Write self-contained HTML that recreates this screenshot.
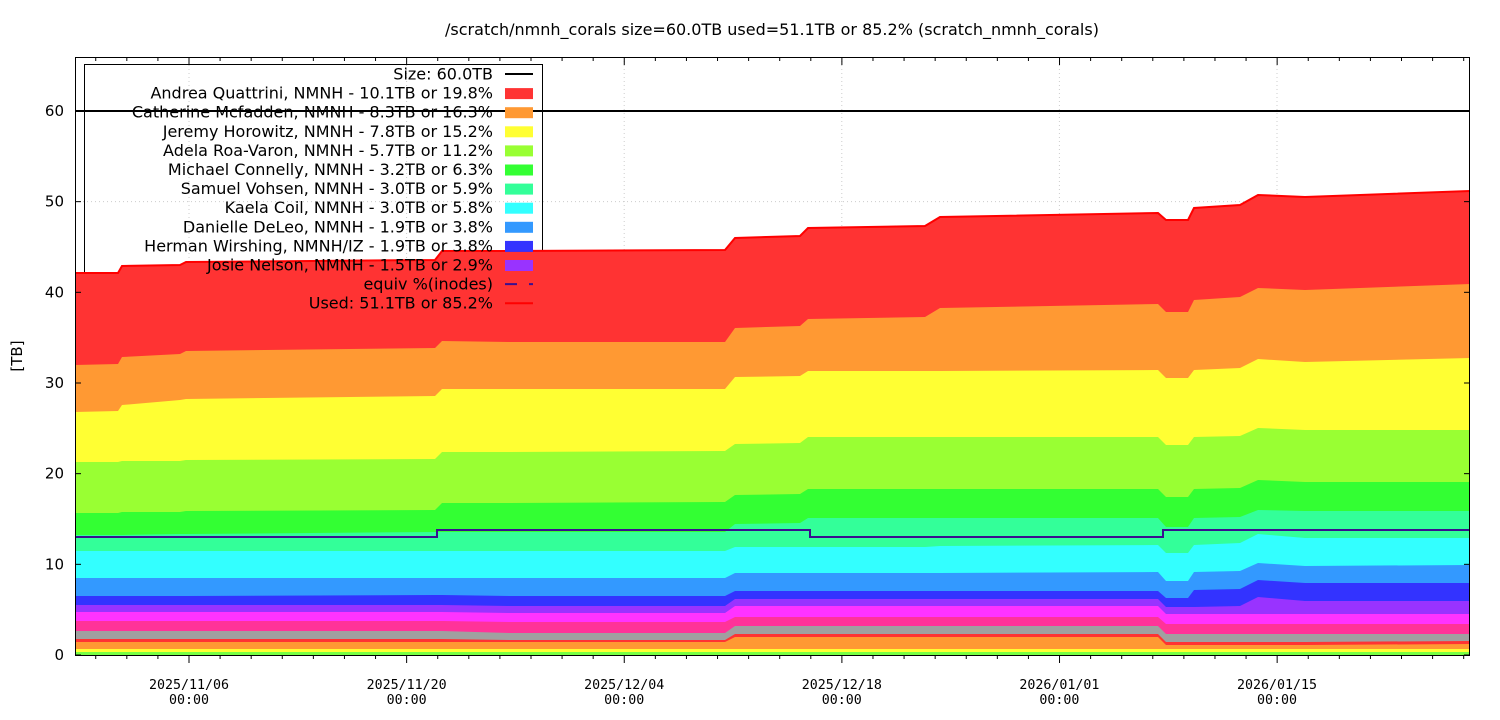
<!DOCTYPE html>
<html><head><meta charset="utf-8"><style>
html,body{margin:0;padding:0;background:#fff;}
svg{display:block;}
</style></head><body>
<svg id="s" width="1500" height="720" xmlns="http://www.w3.org/2000/svg" font-family="DejaVu Sans, Liberation Sans, sans-serif">
<rect width="1500" height="720" fill="#fff"/>
<text x="772" y="35" font-size="16" text-anchor="middle">/scratch/nmnh_corals size=60.0TB used=51.1TB or 85.2% (scratch_nmnh_corals)</text>
<g id="grid" stroke="#ccc" stroke-width="1" stroke-dasharray="1,3"></g>
<rect x="84.5" y="64.5" width="458" height="250" fill="none" stroke="#000"/>
<g id="areas"></g>
<g id="lines"></g>
<g id="axes"></g>
<g id="legend" font-size="16"></g>
<text transform="translate(22,356) rotate(-90)" font-size="15" text-anchor="middle">[TB]</text>
</svg>
<script>
var NS="http://www.w3.org/2000/svg";
function el(p,t,a,txt){var e=document.createElementNS(NS,t);for(var k in a)e.setAttribute(k,a[k]);if(txt!=null)e.textContent=txt;document.getElementById(p).appendChild(e);return e;}
var K=[
[75,[652,649,642,639,631,621,612,605,596,578,551,535,513,462,412,365,273]],
[118,[652,649,642,639,631,621,612,605,596,578,551,535,513,462,411,364,273]],
[122,[652,649,642,639,631,621,612,605,596,578,551,535,512,461,405,357,266]],
[180,[652,649,642,639,631,621,612,605,596,578,551,534,512,461,400,354,265]],
[186,[652,649,642,639,631,621,612,605,596,578,551,534,511,460,399,351,262]],
[435,[652,649,642,639,631,621,612,605,595,578,551,532,510,459,396,348,260]],
[442,[652,649,642,639,631,621,612,605,595,578,551,532,503,452,389,341,251]],
[510,[652,649,642,640,633,622,613,606,596,578,551,532,503,452,389,342,251]],
[725,[652,649,642,640,633,622,613,606,596,578,551,532,502,451,389,342,250]],
[735,[652,649,637,634,626,617,606,599,591,573,547,524,495,444,377,328,238]],
[800,[652,649,637,634,626,617,606,599,591,573,547,523,494,443,376,326,236]],
[808,[652,649,637,634,626,617,606,599,591,573,547,518,489,437,371,319,228]],
[925,[652,649,637,634,626,617,606,599,591,573,547,518,489,437,371,317,226]],
[940,[652,649,637,634,626,617,606,599,591,573,546,518,489,437,371,308,217]],
[1158,[652,649,637,634,626,617,606,599,591,572,545,518,489,437,370,304,213]],
[1166,[652,649,645,642,634,624,614,607,598,581,553,527,497,445,378,312,220]],
[1188,[652,649,645,642,634,624,614,607,598,581,553,527,497,445,378,312,220]],
[1194,[652,649,645,642,634,624,614,607,590,572,545,518,489,437,370,300,208]],
[1240,[652,649,645,642,634,624,614,606,589,571,543,517,488,436,368,297,205]],
[1258,[652,649,645,642,634,624,614,597,580,563,534,510,480,428,359,288,195]],
[1305,[652,649,645,642,634,624,614,601,583,566,538,511,482,430,362,290,197]],
[1470,[652,649,644,641,634,624,614,601,583,565,538,511,482,430,358,284,191]]
];
var C=["#77ff44","#ffff33","#ff9933","#ff3333","#a0a0a0","#ff3399","#ff33ff","#9933ff","#3333ff","#3399ff","#33ffff","#33ff99","#33ff33","#99ff33","#ffff33","#ff9933","#ff3333"];
var yt=[0,10,20,30,40,50,60];
yt.forEach(function(v){var y=655-v*9.067;el("grid","line",{x1:75,x2:1470,y1:y,y2:y});});
var xm=[189,406.6,624.2,841.8,1059.4,1277];
xm.forEach(function(x){el("grid","line",{x1:x,x2:x,y1:57,y2:655});});
for(var i=16;i>=0;i--){
 var pts=K.map(function(k){return k[0]+","+k[1][i];}).join(" ");
 el("areas","polygon",{points:pts+" 1470,655 75,655",fill:C[i]});
}
el("lines","polyline",{points:K.map(function(k){return k[0]+","+k[1][16];}).join(" "),fill:"none",stroke:"#ff0000","stroke-width":2});
el("lines","line",{x1:75,x2:1470,y1:111,y2:111,stroke:"#000","stroke-width":2});
el("lines","polyline",{points:"75,537 437,537 437,530 810,530 810,537 1163,537 1163,530 1470,530",fill:"none",stroke:"#3a0f8f","stroke-width":2});
el("axes","rect",{x:75.5,y:57.5,width:1394,height:598,fill:"none",stroke:"#000"});
yt.forEach(function(v){var y=655-v*9.067;el("axes","line",{x1:75,x2:81,y1:y,y2:y,stroke:"#000"});el("axes","line",{x1:1464,x2:1470,y1:y,y2:y,stroke:"#000"});
 el("axes","text",{x:64,y:y+5,"font-size":15,"text-anchor":"end"},String(v));});
for(var x=189-6*31.09;x<1470;x+=31.09){if(x<76)continue;var mj=xm.some(function(m){return Math.abs(m-x)<2;});var L=mj?8:4;
 el("axes","line",{x1:x,x2:x,y1:655,y2:655+L,stroke:"#000"});el("axes","line",{x1:x,x2:x,y1:57,y2:57+L,stroke:"#000"});}
var xl=["2025/11/06","2025/11/20","2025/12/04","2025/12/18","2026/01/01","2026/01/15"];
xm.forEach(function(x,j){el("axes","text",{x:x,y:689,"font-size":13.3,"text-anchor":"middle","font-family":"DejaVu Sans Mono, Liberation Mono, monospace"},xl[j]);
 el("axes","text",{x:x,y:704,"font-size":13.3,"text-anchor":"middle","font-family":"DejaVu Sans Mono, Liberation Mono, monospace"},"00:00");});
var LG=[["Size: 60.0TB","line","#000"],["Andrea Quattrini, NMNH - 10.1TB or 19.8%","box","#ff3333"],["Catherine Mcfadden, NMNH - 8.3TB or 16.3%","box","#ff9933"],["Jeremy Horowitz, NMNH - 7.8TB or 15.2%","box","#ffff33"],["Adela Roa-Varon, NMNH - 5.7TB or 11.2%","box","#99ff33"],["Michael Connelly, NMNH - 3.2TB or 6.3%","box","#33ff33"],["Samuel Vohsen, NMNH - 3.0TB or 5.9%","box","#33ff99"],["Kaela Coil, NMNH - 3.0TB or 5.8%","box","#33ffff"],["Danielle DeLeo, NMNH - 1.9TB or 3.8%","box","#3399ff"],["Herman Wirshing, NMNH/IZ - 1.9TB or 3.8%","box","#3333ff"],["Josie Nelson, NMNH - 1.5TB or 2.9%","box","#9933ff"],["equiv %(inodes)","dash","#3a0f8f"],["Used: 51.1TB or 85.2%","line","#ff0000"]];
LG.forEach(function(r,j){var y=74+j*19.1;
 el("legend","text",{x:493,y:y+5.5,"text-anchor":"end"},r[0]);
 if(r[1]=="box")el("legend","rect",{x:505,y:y-5,width:28,height:11,fill:r[2]});
 else if(r[1]=="line")el("legend","line",{x1:505,x2:533,y1:y,y2:y,stroke:r[2],"stroke-width":2});
 else el("legend","line",{x1:505,x2:533,y1:y,y2:y,stroke:r[2],"stroke-width":2,"stroke-dasharray":"12,12"});
});
</script>
</body></html>
